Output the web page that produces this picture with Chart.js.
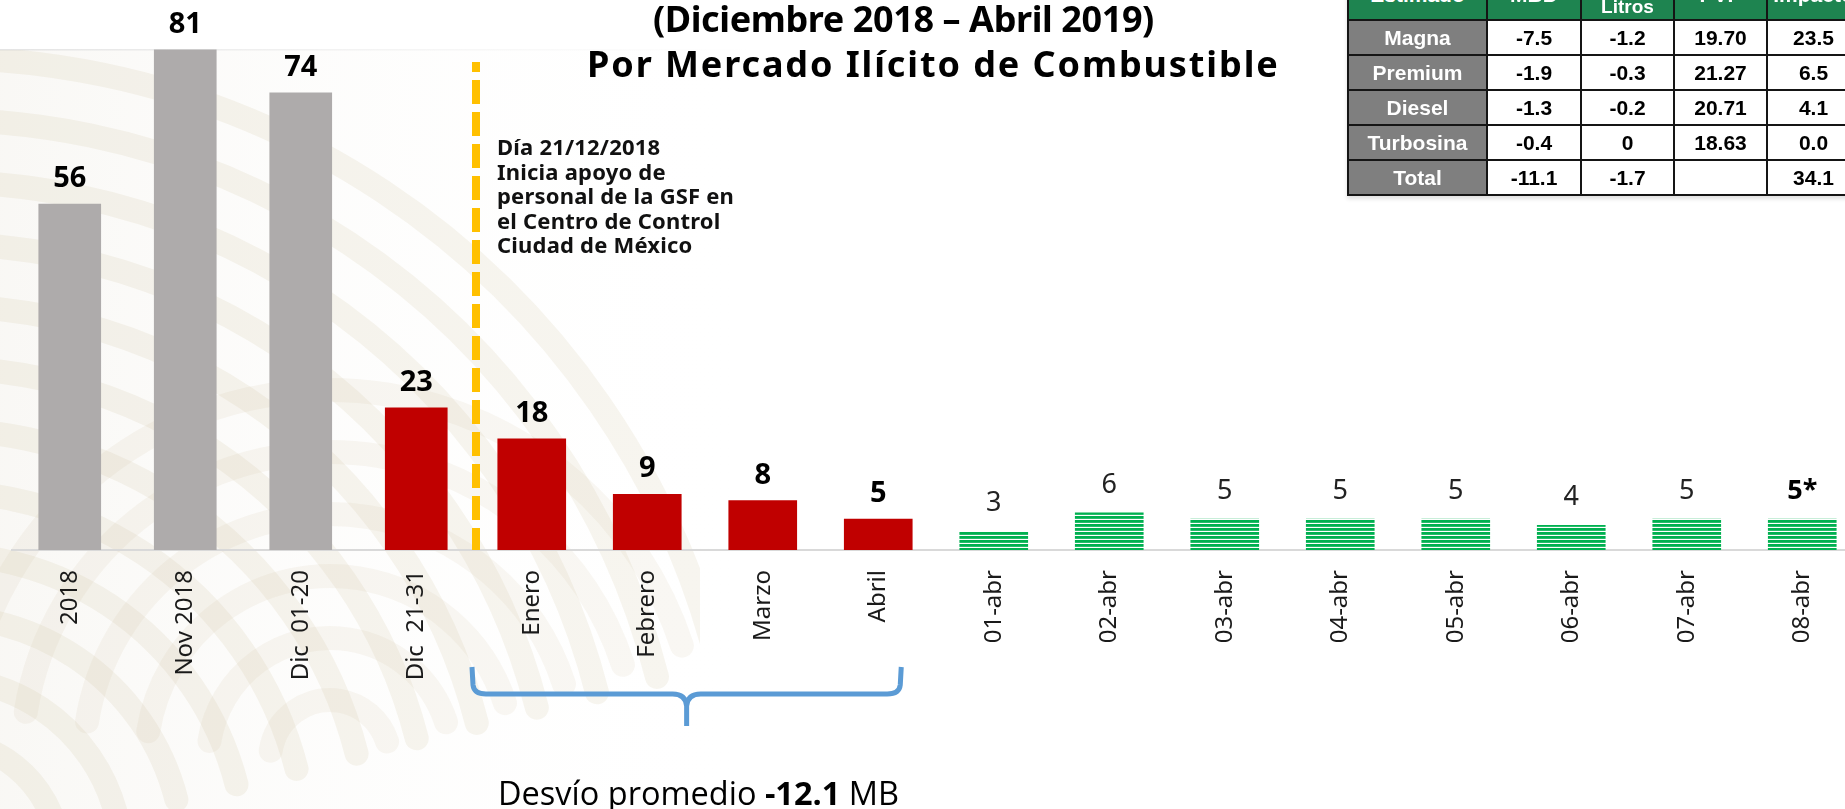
<!DOCTYPE html>
<html>
<head>
<meta charset="utf-8">
<script src="https://cdn.jsdelivr.net/npm/chart.js@4.4.1/dist/chart.umd.min.js"></script>
<style>
  html, body { margin:0; padding:0; width:1845px; height:809px; overflow:hidden; background:#fff; }
  #wrap { position:absolute; left:0; top:0; width:1860px; height:809px; }
  canvas { position:absolute; left:0; top:0; }
  .title { position:absolute; font-family:"Noto Sans", sans-serif; font-weight:700; font-size:36px; color:#000; white-space:nowrap; line-height:1; }
  .note { position:absolute; left:497px; top:134px; font-family:"Noto Sans", sans-serif; font-weight:700; font-size:22px; letter-spacing:0.2px; line-height:24.5px; color:#111; white-space:nowrap; }
  .desvio { position:absolute; left:498px; top:773px; font-family:"Open Sans", sans-serif; font-size:32.5px; color:#000; white-space:nowrap; line-height:1.2; }
  table.est { position:absolute; left:1347px; top:-30px; border-collapse:collapse; table-layout:fixed; font-family:"Liberation Sans", Arial, sans-serif; font-weight:700; font-size:21px; box-shadow:0 3px 4px rgba(0,0,0,0.12); }
  table.est td, table.est th { border:2.5px solid #151515; text-align:center; padding:0; line-height:22px; white-space:nowrap; overflow:hidden; }
  table.est th { background:#1E8450; color:#fff; height:48px; font-size:21px; line-height:22px; vertical-align:middle; }
  table.est th.small { font-size:19px; line-height:23px; }
  table.est td.lab { background:#7F7F7F; color:#fff; }
  table.est td.val { background:#fff; color:#000; }
</style>
</head>
<body>
<div id="wrap"><canvas id="c" width="1860" height="809"></canvas></div>

<div class="title" style="left:653px; top:1px; letter-spacing:-0.4px;">(Diciembre 2018 – Abril 2019)</div>
<div class="title" style="left:587px; top:46px; letter-spacing:1.9px;">Por Mercado Ilícito de Combustible</div>

<div class="note">Día 21/12/2018<br>Inicia apoyo de<br>personal de la GSF en<br>el Centro de Control<br>Ciudad de México</div>

<div class="desvio">Desvío promedio <b>-12.1</b> MB</div>

<table class="est" id="est"></table>

<script>
// ---------- DATA ----------
const categories = ["2018", "Nov 2018", "Dic  01-20", "Dic  21-31", "Enero", "Febrero", "Marzo", "Abril",
                    "01-abr", "02-abr", "03-abr", "04-abr", "05-abr", "06-abr", "07-abr", "08-abr"];
const previousValues = [56, 81, 74, 23, null, null, null, null, null, null, null, null, null, null, null, null];
const monthlyValues  = [null, null, null, null, 18, 9, 8, 5, null, null, null, null, null, null, null, null];
const dailyValues    = [null, null, null, null, null, null, null, null, 3, 6, 5, 5, 5, 4, 5, 5];
const dailyNotes     = ["", "", "", "", "", "", "", "", "", "", "", "", "", "", "", "*"];

// summary table
const tableHeader = ["Estimado", "MBD", "Millones de<br>Litros", "PVP", "Impacto"];
const tableRows   = ["Magna", "Premium", "Diesel", "Turbosina", "Total"];
const tableMBD    = ["-7.5", "-1.9", "-1.3", "-0.4", "-11.1"];
const tableLitros = ["-1.2", "-0.3", "-0.2", "0", "-1.7"];
const tablePVP    = ["19.70", "21.27", "20.71", "18.63", ""];
const tableImp    = ["23.5", "6.5", "4.1", "0.0", "34.1"];

// ---------- TABLE ----------
(function(){
  const t = document.getElementById('est');
  const widths = [139, 94, 93, 93, 93];
  let h = '<colgroup>' + widths.map(w=>'<col style="width:'+w+'px">').join('') + '</colgroup>';
  h += '<tr>' + tableHeader.map((x,i)=>'<th' + (i===2 ? ' class="small"' : '') + '>'+x+'</th>').join('') + '</tr>';
  tableRows.forEach((r,i)=>{
    h += '<tr style="height:35px"><td class="lab">'+r+'</td><td class="val">'+tableMBD[i]+'</td><td class="val">'+tableLitros[i]+
         '</td><td class="val">'+tablePVP[i]+'</td><td class="val">'+tableImp[i]+'</td></tr>';
  });
  t.innerHTML = h;
  t.style.width = widths.reduce((a,b)=>a+b,0) + 'px';
  // place the header's bottom edge at y = 20
  const r1 = t.rows[1].getBoundingClientRect();
  t.style.top = (-30 + (20 - r1.top)) + 'px';
})();

// ---------- COLORS ----------
const GRAY = '#AEABAB', RED = '#C00000', GREEN = '#00B050', YELLOW = '#FFC000', BLUE = '#5B9BD5';
const prevColors = previousValues.map((v,i)=> i < 3 ? GRAY : RED);

function stripePattern(){
  const c = document.createElement('canvas');
  c.width = 8; c.height = 4;
  const g = c.getContext('2d');
  g.fillStyle = GREEN;
  g.fillRect(0,0,8,2);
  g.globalAlpha = 0.85;
  g.fillRect(0,2,8,1);
  return g.createPattern(c, 'repeat');
}

// ---------- PLUGINS ----------
const background = {
  id:'background',
  beforeDraw(chart){
    const ctx = chart.ctx;
    ctx.save();
    ctx.fillStyle = '#fff';
    ctx.fillRect(0,0,chart.width,chart.height);
    const gr = ctx.createLinearGradient(0,0,760,0);
    gr.addColorStop(0,'rgba(245,243,238,0.6)');
    gr.addColorStop(1,'rgba(255,255,255,0)');
    ctx.fillStyle = gr;
    ctx.fillRect(0,50,760,760);
    const gl = ctx.createLinearGradient(0,0,760,0);
    gl.addColorStop(0,'rgba(225,225,225,0.9)');
    gl.addColorStop(1,'rgba(235,235,235,0)');
    ctx.fillStyle = gl;
    ctx.fillRect(0,49,760,1.5);
    // watermark strokes
    ctx.beginPath();
    ctx.rect(0,50,700,760);
    ctx.clip();
    ctx.strokeStyle = 'rgba(205,190,155,0.16)';
    ctx.lineCap = 'round';
    ctx.lineWidth = 24;
    for (let r = 120; r <= 820; r += 62) {
      ctx.beginPath();
      ctx.arc(-60, 860, r, -Math.PI/2 - 0.15, -0.25);
      ctx.stroke();
    }
    ctx.strokeStyle = 'rgba(205,190,155,0.12)';
    for (let r = 60; r <= 400; r += 62) {
      ctx.beginPath();
      ctx.arc(330, 760, r, Math.PI*1.05, Math.PI*1.9);
      ctx.stroke();
    }
    ctx.restore();
  }
};

const annotations = {
  id:'annotations',
  afterDatasetsDraw(chart){
    const ctx = chart.ctx, xs = chart.scales.x, area = chart.chartArea;
    ctx.save();
    // yellow dashed separator
    const lx = xs.getPixelForValue(3.5) + 2;
    ctx.strokeStyle = YELLOW;
    ctx.lineWidth = 8;
    ctx.setLineDash([24, 8]);
    ctx.lineDashOffset = 14;
    ctx.beginPath();
    ctx.moveTo(lx, 62);
    ctx.lineTo(lx, area.bottom);
    ctx.stroke();
    ctx.setLineDash([]);

    // blue brace under Enero–Abril
    const L = xs.getPixelForValue(3.5) - 2, R = xs.getPixelForValue(7) + 23;
    const cx = (L + R) / 2, top = 667, mid = 694, tip = 726;
    ctx.strokeStyle = BLUE;
    ctx.lineWidth = 5;
    ctx.lineJoin = 'round';
    ctx.beginPath();
    ctx.moveTo(L, top);
    ctx.lineTo(L + 1, mid - 9);
    ctx.quadraticCurveTo(L + 2, mid, L + 14, mid);
    ctx.lineTo(cx - 14, mid);
    ctx.quadraticCurveTo(cx - 1, mid, cx, mid + 12);
    ctx.lineTo(cx, tip);
    ctx.moveTo(cx, mid + 12);
    ctx.quadraticCurveTo(cx + 1, mid, cx + 14, mid);
    ctx.lineTo(R - 14, mid);
    ctx.quadraticCurveTo(R - 2, mid, R - 1, mid - 9);
    ctx.lineTo(R, top);
    ctx.stroke();

    // value labels
    ctx.textAlign = 'center';
    ctx.textBaseline = 'alphabetic';
    chart.data.datasets.forEach((ds, di) => {
      const meta = chart.getDatasetMeta(di);
      meta.data.forEach((el, i) => {
        const v = ds.data[i];
        if (v == null) return;
        if (ds.labelStyle === 'bold') {
          ctx.font = '700 29px "Noto Sans"';
          ctx.fillStyle = '#000';
          ctx.fillText(String(v), el.x, el.y - 17);
        } else {
          const note = dailyNotes[i];
          ctx.font = note ? '700 27px "Noto Sans"' : '400 27px "Noto Sans"';
          ctx.fillStyle = note ? '#000' : '#222';
          ctx.fillText(String(v) + note, el.x, el.y - 20);
        }
      });
    });
    ctx.restore();
  }
};

// ---------- CHART ----------
new Chart(document.getElementById('c'), {
  type: 'bar',
  data: {
    labels: categories,
    datasets: [
      { data: previousValues, backgroundColor: prevColors, barThickness: 62, labelStyle: 'bold' },
      { data: monthlyValues, backgroundColor: RED, barThickness: 68, labelStyle: 'bold' },
      { data: dailyValues, backgroundColor: stripePattern(), barThickness: 68, labelStyle: 'light' }
    ]
  },
  options: {
    responsive: false,
    animation: false,
    devicePixelRatio: 1,
    layout: { padding: { left: 12, top: 25, right: 0, bottom: 0 } },
    plugins: { legend: { display: false }, tooltip: { enabled: false }, title: { display: false } },
    scales: {
      x: {
        stacked: true,
        grid: { display: false },
        border: { display: true, color: '#D9D9D9', width: 2 },
        ticks: {
          autoSkip: false, minRotation: 90, maxRotation: 90, padding: 12,
          color: '#1a1a1a', font: { family: 'Noto Sans', size: 24, weight: '400' }
        },
        afterFit(scale) { scale.height = 259; }
      },
      y: {
        stacked: true,
        display: false,
        min: 0, max: 85
      }
    }
  },
  plugins: [background, annotations]
});
</script>
</body>
</html>
